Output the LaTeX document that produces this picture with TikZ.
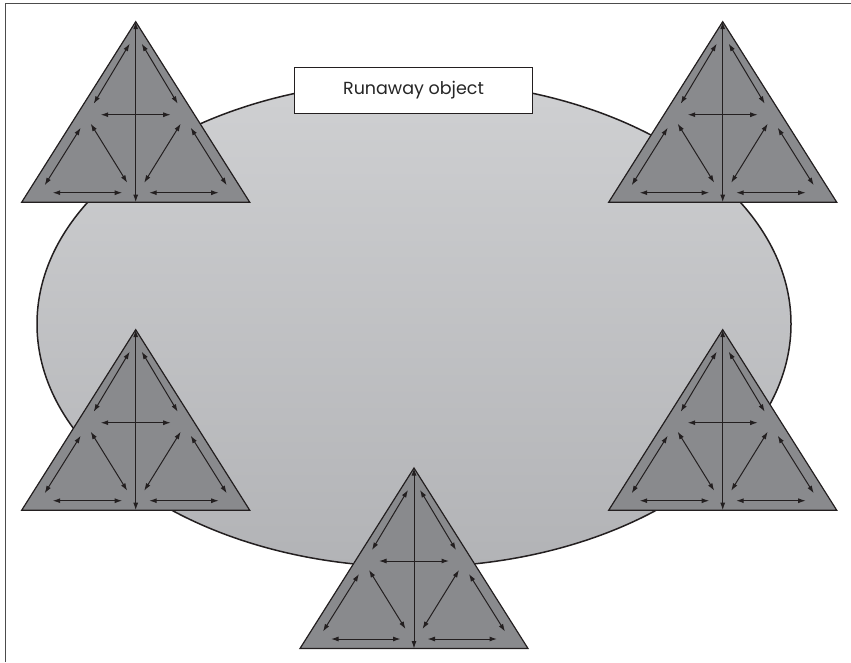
\documentclass[tikz,border=0pt]{standalone}
\usepackage{fontspec}
\newfontfamily\labelfont{Poppins}
\usetikzlibrary{arrows.meta}
\definecolor{trifill}{HTML}{898A8D}
\definecolor{ovaltop}{HTML}{CFD0D2}
\definecolor{ovalbot}{HTML}{B2B3B6}
\definecolor{ink}{HTML}{231F20}

\begin{document}
\begin{tikzpicture}[x=1pt, y=-1pt, >={Latex[length=7.5pt,width=5pt]}]
    \useasboundingbox (0,0) rectangle (851,662);

    % Khung
    \draw[black!70, line width=1.3pt] (5.5,662) -- (5.5,3.5) -- (851,3.5);

    % Hinh bau duc
    \shade[top color=ovaltop, bottom color=ovalbot, draw=ink, line width=1.5pt]
        (414,324) ellipse (377 and 243);

    % Nhan
    \node[draw=ink, fill=white, line width=1pt, minimum width=238pt, minimum height=46pt,
          font=\labelfont\fontsize{17.5}{20}\selectfont, text=black!85] (obj) at (413.5,90) {Runaway object};

    % Cac tam giac
    \foreach \ax/\ay in {135.7/21.7, 722.7/21.7, 135.7/329.7, 722.7/329.7, 414/468} {
        \begin{scope}[shift={(\ax,\ay)}]
            \coordinate (A) at (0,0);
            \coordinate (B) at (-114,180.5);
            \coordinate (C) at (114,180.5);
            \coordinate (M) at (0,180.5);
            \draw[ink, fill=trifill, line width=1.2pt] (A) -- (B) -- (C) -- cycle;
            \draw[<->, ink, line width=1pt] (A) -- (M);
            \draw[<->, ink, line width=1pt] (-35,93) -- (35,93);
            \foreach \s in {-1,1} {
                \draw[<->, ink, line width=1pt] (\s*6,22) -- (\s*42,82);
                \draw[<->, ink, line width=1pt] (\s*55,106) -- (\s*91,163.5);
                \draw[<->, ink, line width=1pt] (\s*45,102) -- (\s*8.5,161);
                \draw[<->, ink, line width=1pt] (\s*83,171) -- (\s*13.5,171);
            }
        \end{scope}
    }
\end{tikzpicture}
\end{document}
